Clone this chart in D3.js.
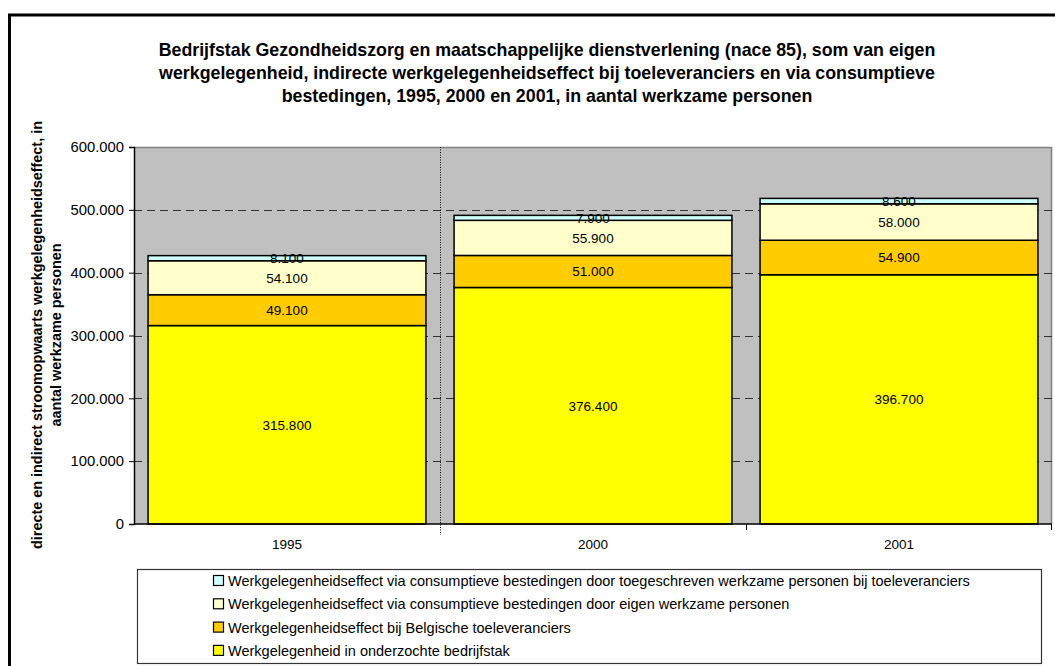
<!DOCTYPE html>
<html>
<head>
<meta charset="utf-8">
<script src="https://cdn.jsdelivr.net/npm/d3@7"></script>
<style>
  body { margin: 0; background: #fff; }
  svg { display: block; font-family: "Liberation Sans", Arial, sans-serif; }
</style>
</head>
<body>
<div id="chart"></div>
<script>
// data
var years = ['1995', '2000', '2001'];
var eigen = [315800, 376400, 396700];
var toelev = [49100, 51000, 54900];
var consEigen = [54100, 55900, 58000];
var consToegeschreven = [8100, 7900, 8600];
var yTicks = [0, 100000, 200000, 300000, 400000, 500000, 600000];

var seriesNames = [
  'Werkgelegenheid in onderzochte bedrijfstak',
  'Werkgelegenheidseffect bij Belgische toeleveranciers',
  'Werkgelegenheidseffect via consumptieve bestedingen door eigen werkzame personen',
  'Werkgelegenheidseffect via consumptieve bestedingen door toegeschreven werkzame personen bij toeleveranciers'
];
var colors = ['#ffff00', '#ffcc00', '#ffffcc', '#ccffff'];

var titleLines = [
  'Bedrijfstak Gezondheidszorg en maatschappelijke dienstverlening (nace 85), som van eigen',
  'werkgelegenheid, indirecte werkgelegenheidseffect bij toeleveranciers en via consumptieve',
  'bestedingen, 1995, 2000 en 2001, in aantal werkzame personen'
];
var yTitleLines = [
  'directe en indirect stroomopwaarts werkgelegenheidseffect, in',
  'aantal werkzame personen'
];

var width = 1055, height = 666;
var plot = { left: 134, top: 147, right: 1052, bottom: 524 };

var svg = d3.select('#chart').append('svg')
  .attr('width', width)
  .attr('height', height);

// outer frame (runs off the right and bottom)
svg.append('rect')
  .attr('x', 9.5).attr('y', 15)
  .attr('width', 1060).attr('height', 680)
  .attr('fill', 'none').attr('stroke', '#000').attr('stroke-width', 3);

// title
svg.append('g').selectAll('text')
  .data(titleLines)
  .enter().append('text')
  .attr('x', 547)
  .attr('y', (d, i) => 56 + i * 23)
  .attr('text-anchor', 'middle')
  .attr('font-size', 17.8)
  .attr('font-weight', 'bold')
  .text(d => d);

// scales
var xScale = d3.scaleBand()
  .domain(years)
  .range([plot.left, plot.right])
  .paddingInner(0.092)
  .paddingOuter(0.046);

var yScale = d3.scaleLinear()
  .domain([0, 600000])
  .range([plot.bottom, plot.top]);

// plot background
svg.append('rect')
  .attr('x', plot.left).attr('y', plot.top)
  .attr('width', plot.right - plot.left).attr('height', plot.bottom - plot.top)
  .attr('fill', '#c0c0c0');
svg.append('path')
  .attr('d', `M${plot.left},${plot.top + 0.5}H${plot.right - 0.5}V${plot.bottom}`)
  .attr('fill', 'none').attr('stroke', '#808080').attr('stroke-width', 1.5);

// dashed gridlines
svg.append('g').selectAll('line')
  .data(yTicks.filter(d => d > 0 && d < 600000))
  .enter().append('line')
  .attr('x1', plot.left).attr('x2', plot.right)
  .attr('y1', d => Math.round(yScale(d)) + 0.5)
  .attr('y2', d => Math.round(yScale(d)) + 0.5)
  .attr('stroke', '#333').attr('stroke-dasharray', '8,5');

// dotted separator between 1995 and 2000
var sepX = Math.round(xScale('2000') - xScale.step() * xScale.paddingInner() / 2) + 0.5;
svg.append('line')
  .attr('x1', sepX).attr('x2', sepX)
  .attr('y1', plot.top).attr('y2', plot.bottom + 11)
  .attr('stroke', '#000').attr('stroke-dasharray', '1,1.5');

// stacked bars
var table = years.map((y, i) => ({
  year: y,
  s0: eigen[i], s1: toelev[i], s2: consEigen[i], s3: consToegeschreven[i]
}));
var stack = d3.stack().keys(['s0', 's1', 's2', 's3']);
var layers = stack(table);

var layerG = svg.append('g').selectAll('g')
  .data(layers)
  .enter().append('g')
  .attr('fill', (d, i) => colors[i]);

layerG.selectAll('rect')
  .data(d => d)
  .enter().append('rect')
  .attr('x', d => xScale(d.data.year))
  .attr('y', d => yScale(d[1]))
  .attr('width', xScale.bandwidth())
  .attr('height', d => yScale(d[0]) - yScale(d[1]))
  .attr('stroke', '#000').attr('stroke-width', 1.5);

// value labels
var fmt = d3.format(',');
layerG.selectAll('text')
  .data(d => d)
  .enter().append('text')
  .attr('x', d => xScale(d.data.year) + xScale.bandwidth() / 2)
  .attr('y', d => (yScale(d[0]) + yScale(d[1])) / 2 + 5)
  .attr('text-anchor', 'middle')
  .attr('font-size', 13.5)
  .attr('fill', '#000')
  .text(d => fmt(d[1] - d[0]).replace(/,/g, '.'));

// axes
var yAxis = d3.axisLeft(yScale)
  .tickValues(yTicks)
  .tickSize(5)
  .tickFormat(d => d === 0 ? '0' : fmt(d).replace(/,/g, '.'));
var yG = svg.append('g')
  .attr('transform', `translate(${plot.left},0)`)
  .call(yAxis);
yG.select('.domain').attr('stroke-width', 1.5);
yG.selectAll('text').attr('font-size', 14.8).attr('fill', '#000')
  .attr('font-family', '"Liberation Sans", Arial, sans-serif').attr('dx', -2);

var xAxis = d3.axisBottom(xScale).tickSize(0).tickPadding(15);
var xG = svg.append('g')
  .attr('transform', `translate(0,${plot.bottom})`)
  .call(xAxis);
xG.select('.domain').remove();
xG.selectAll('text').attr('font-size', 13.5).attr('fill', '#000')
  .attr('font-family', '"Liberation Sans", Arial, sans-serif');
svg.append('line')
  .attr('x1', plot.left).attr('x2', plot.right)
  .attr('y1', plot.bottom).attr('y2', plot.bottom)
  .attr('stroke', '#000').attr('stroke-width', 1.5);
// category boundary ticks
svg.append('g').selectAll('line')
  .data(['2001', null])
  .enter().append('line')
  .attr('x1', d => d ? Math.round(xScale(d) - xScale.step() * xScale.paddingInner() / 2) + 0.5 : plot.right - 0.5)
  .attr('x2', d => d ? Math.round(xScale(d) - xScale.step() * xScale.paddingInner() / 2) + 0.5 : plot.right - 0.5)
  .attr('y1', plot.bottom).attr('y2', plot.bottom + 6)
  .attr('stroke', '#000');

// y axis title
svg.append('g')
  .attr('transform', 'translate(0,335) rotate(-90)')
  .selectAll('text')
  .data(yTitleLines)
  .enter().append('text')
  .attr('x', 0)
  .attr('y', (d, i) => 42 + i * 19)
  .attr('text-anchor', 'middle')
  .attr('font-size', 14.4)
  .attr('font-weight', 'bold')
  .text(d => d);

// legend
var legend = svg.append('g');
legend.append('rect')
  .attr('x', 137.5).attr('y', 569.5)
  .attr('width', 904).attr('height', 94)
  .attr('fill', '#fff').attr('stroke', '#333').attr('stroke-width', 1.2);

var legendOrder = [3, 2, 1, 0];
var items = legend.selectAll('g.item')
  .data(legendOrder)
  .enter().append('g')
  .attr('class', 'item')
  .attr('transform', (d, i) => `translate(213,${581 + i * 23.3})`);
items.append('rect')
  .attr('x', 0.5).attr('y', -5.5)
  .attr('width', 10).attr('height', 10)
  .attr('fill', d => colors[d]).attr('stroke', '#000').attr('stroke-width', 1.2);
items.append('text')
  .attr('x', 15).attr('y', 5)
  .attr('font-size', 14.5)
  .text(d => seriesNames[d]);
</script>
</body>
</html>
